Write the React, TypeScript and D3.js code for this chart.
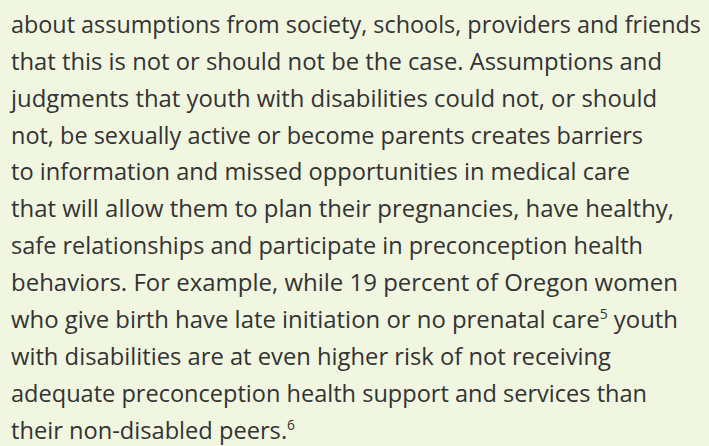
import React, { useEffect, useRef } from 'react';
import * as d3 from 'd3';

// paragraph lines, as set in the reference
const lines: { text: string; sup?: string; after?: string }[] = [
  { text: 'about assumptions from society, schools, providers and friends' },
  { text: 'that this is not or should not be the case. Assumptions and' },
  { text: 'judgments that youth with disabilities could not, or should' },
  { text: 'not, be sexually active or become parents creates barriers' },
  { text: 'to information and missed opportunities in medical care' },
  { text: 'that will allow them to plan their pregnancies, have healthy,' },
  { text: 'safe relationships and participate in preconception health' },
  { text: 'behaviors. For example, while 19 percent of Oregon women' },
  { text: 'who give birth have late initiation or no prenatal care', sup: '5', after: ' youth' },
  { text: 'with disabilities are at even higher risk of not receiving' },
  { text: 'adequate preconception health support and services than' },
  { text: 'their non-disabled peers.', sup: '6' },
];

// right edge of each line in the reference (px)
const lineEnds = [701, 662, 657, 643, 630, 674, 643, 678, 678, 611, 647, 295];

const W = 709;
const H = 446;

const App: React.FC = () => {
  const svgRef = useRef<SVGSVGElement | null>(null);

  useEffect(() => {
    if (!svgRef.current) return;
    const svg = d3.select(svgRef.current);
    svg.selectAll('*').remove();

    svg.append('rect').attr('width', W).attr('height', H).attr('fill', '#f1f6e1');

    const left = 11;
    const y = d3
      .scalePoint<number>()
      .domain(d3.range(lines.length))
      .range([33, 438.5]);

    const text = svg
      .append('g')
      .attr('font-family', '"Open Sans", "Noto Sans", sans-serif')
      .attr('font-size', 24)
      .attr('fill', '#333333');

    lines.forEach((ln, i) => {
      const t = text
        .append('text')
        .attr('x', left)
        .attr('y', y(i)!)
        .attr('textLength', lineEnds[i] - left)
        .attr('lengthAdjust', 'spacingAndGlyphs');
      t.append('tspan').text(ln.text);
      if (ln.sup) {
        t.append('tspan')
          .attr('dy', -9)
          .attr('font-size', 14)
          .text(ln.sup);
      }
      if (ln.after) {
        t.append('tspan').attr('dy', 9).text(ln.after);
      }
    });
  }, []);

  return (
    <svg
      ref={svgRef}
      width={W}
      height={H}
      style={{ position: 'absolute', left: 0, top: 0, display: 'block' }}
    />
  );
};

export default App;
